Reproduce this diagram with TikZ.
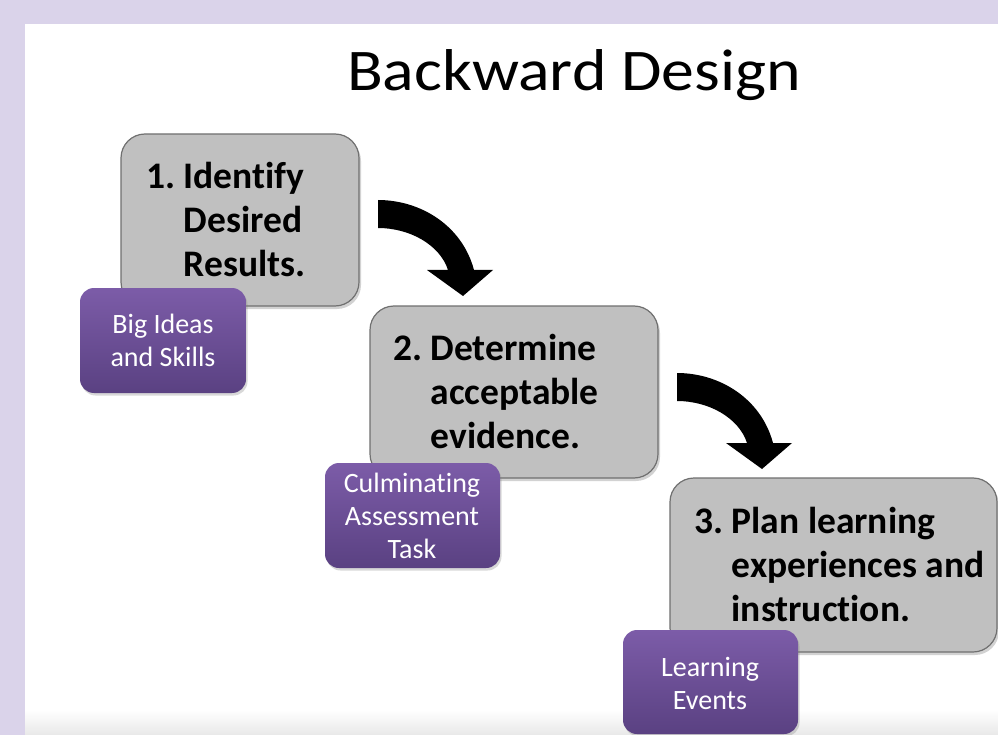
\documentclass[tikz,border=0pt]{standalone}
\usepackage{fontspec}
\usepackage{graphicx}
\setmainfont{Carlito}[Ligatures=CommonOff]
\usetikzlibrary{shadows}
\definecolor{lav}{HTML}{DAD3EA}
\definecolor{boxgray}{HTML}{C0C0C0}
\definecolor{boxedge}{HTML}{707070}
\definecolor{ptop}{HTML}{7C5CA8}
\definecolor{pbot}{HTML}{5A4182}
\begin{document}
\begin{tikzpicture}[x=1pt,y=-1pt,
  graybox/.style={draw=boxedge, line width=1.2pt, fill=boxgray, rounded corners=24pt,
    anchor=north west, inner sep=0pt, outer sep=0pt,
    drop shadow={shadow xshift=2pt, shadow yshift=-3pt, opacity=0.35}},
  purplebox/.style={rounded corners=14pt, top color=ptop, bottom color=pbot,
    anchor=north west, inner sep=0pt, outer sep=0pt,
    drop shadow={shadow xshift=1.5pt, shadow yshift=-2.5pt, opacity=0.3}},
  steptext/.style={anchor=base west, inner sep=0pt, font=\fontsize{37.5}{44}\selectfont\bfseries},
  purpletext/.style={anchor=base, inner sep=0pt, text=white, font=\fontsize{28}{33}\selectfont},
  bigarrow/.pic={\fill[black] (0,0) .. controls (42,0) and (84,25) .. (96,70) -- (115,70) -- (85,96) -- (49,70) -- (70,70) .. controls (62,45) and (32,28) .. (0,28) -- cycle;}
]
\useasboundingbox (0,0) rectangle (998,735);
% background
\fill[lav] (0,0) rectangle (998,735);
\fill[white] (25,24) rectangle (998,710);
\shade[top color=white, bottom color=black!9] (25,710) rectangle (998,735);

% title
\node[anchor=base, inner sep=0pt, font=\fontsize{59}{62}\selectfont] (title) at (574,91) {\scalebox{1.115}[1]{Backward Design}};

% step 1
\node[graybox, minimum width=238pt, minimum height=172pt] (b1) at (121,134) {};
\node[steptext] (t1) at (146,189) {\begin{tabular}[t]{@{}l@{}}1.~Identify\\\phantom{1.~}Desired\\\phantom{1.~}Results.\end{tabular}};
\node[purplebox, minimum width=166pt, minimum height=105pt] (p1) at (80,288) {};
\node[purpletext] (pt1) at (163,333) {\begin{tabular}[t]{@{}c@{}}Big Ideas\\and Skills\end{tabular}};

% arrow 1
\pic at (378,200) {bigarrow};

% step 2
\node[graybox, minimum width=288pt, minimum height=172pt] (b2) at (370,306) {};
\node[steptext] (t2) at (393,360) {\begin{tabular}[t]{@{}l@{}}2.~Determine\\\phantom{2.~}acceptable\\\phantom{2.~}evidence.\end{tabular}};
\node[purplebox, minimum width=175pt, minimum height=105pt] (p2) at (325,463) {};
\node[purpletext] (pt2) at (412,492) {\begin{tabular}[t]{@{}c@{}}Culminating\\Assessment\\Task\end{tabular}};

% arrow 2
\pic at (677,373) {bigarrow};

% step 3
\node[graybox, minimum width=327pt, minimum height=174pt] (b3) at (670,478) {};
\node[steptext] (t3) at (694,533) {\begin{tabular}[t]{@{}l@{}}3.~Plan learning\\\phantom{3.~}experiences and\\\phantom{3.~}instruction.\end{tabular}};
\node[purplebox, minimum width=175pt, minimum height=104pt] (p3) at (623,630) {};
\node[purpletext] (pt3) at (710,676) {\begin{tabular}[t]{@{}c@{}}Learning\\Events\end{tabular}};
\end{tikzpicture}
\end{document}
